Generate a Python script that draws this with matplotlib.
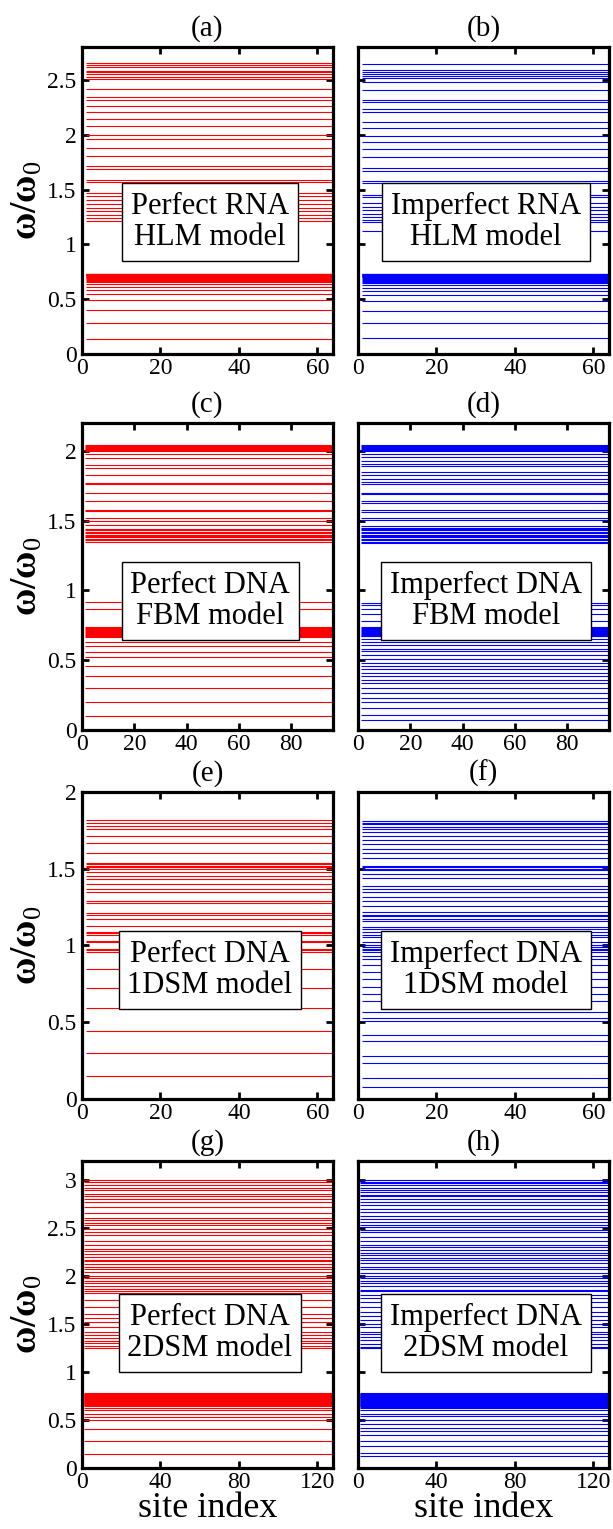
import numpy as np
import matplotlib
matplotlib.use("Agg")
import matplotlib.pyplot as plt

plt.rcParams['font.family'] = ['Liberation Serif', 'DejaVu Serif']
plt.rcParams['mathtext.fontset'] = 'custom'
plt.rcParams['mathtext.rm'] = 'Liberation Serif'
plt.rcParams['mathtext.bf'] = 'Liberation Serif:bold'
plt.rcParams['mathtext.it'] = 'Liberation Serif:italic'

# ------------------------------------------------------------------
# eigenfrequencies omega/omega_0
# ------------------------------------------------------------------
rna_hlm_perfect = [
    2.65, 2.635, 2.62, 2.585, 2.57, 2.55, 2.53, 2.51, 2.42, 2.34, 2.32,
    2.26, 2.21, 2.14, 2.08, 2.00, 1.96, 1.88, 1.81, 1.71, 1.69, 1.59, 1.57,
    1.47, 1.44, 1.40, 1.37, 1.33, 1.30, 1.27, 1.24, 1.21,
    0.14, 0.28, 0.40, 0.49, 0.55, 0.585, 0.615, 0.64, 0.655, 0.665, 0.675,
    0.683, 0.69, 0.695, 0.70, 0.705, 0.71, 0.713, 0.716, 0.719, 0.722,
    0.724, 0.726, 0.728, 0.73, 0.732]
rna_hlm_imperfect = [
    2.645, 2.59, 2.57, 2.555, 2.535, 2.52, 2.485, 2.41, 2.32, 2.30, 2.235,
    2.21, 2.12, 2.06, 1.985, 1.93, 1.87, 1.80, 1.70, 1.665, 1.575, 1.555,
    1.45, 1.43, 1.38, 1.345, 1.31, 1.28, 1.25, 1.225, 1.20, 1.12,
    0.15, 0.28, 0.39, 0.48, 0.54, 0.57, 0.60, 0.625, 0.645, 0.66, 0.67,
    0.678, 0.686, 0.693, 0.70, 0.705, 0.71, 0.714, 0.718, 0.722, 0.725,
    0.728, 0.731, 0.734]

dna_fbm_perfect = [
    2.0, 2.007, 2.014, 2.021, 2.028, 2.035, 2.042, 1.98, 1.95, 1.90, 1.88,
    1.83, 1.77, 1.76, 1.70, 1.64, 1.58, 1.57, 1.52, 1.50, 1.47, 1.44,
    1.35, 1.36, 1.37, 1.38, 1.39, 1.40, 1.41, 1.42, 1.43,
    0.92, 0.865, 0.665, 0.672, 0.679, 0.686, 0.693, 0.70, 0.707, 0.714,
    0.721, 0.728, 0.735, 0.63, 0.60, 0.56, 0.52, 0.46, 0.385, 0.30, 0.20,
    0.10]
dna_fbm_imperfect = [
    2.0, 2.007, 2.014, 2.021, 2.028, 2.035, 2.042, 1.98, 1.955, 1.93, 1.905,
    1.89, 1.85, 1.83, 1.80, 1.775, 1.76, 1.70, 1.69, 1.64, 1.625, 1.58,
    1.565, 1.52, 1.505, 1.34, 1.35, 1.36, 1.37, 1.38, 1.39, 1.40, 1.41,
    1.42, 1.43, 1.44, 1.45, 1.46,
    0.91, 0.895, 0.865, 0.83, 0.78, 0.67, 0.677, 0.684, 0.691, 0.698,
    0.705, 0.712, 0.719, 0.726, 0.733, 0.74, 0.65, 0.63, 0.61, 0.58, 0.565,
    0.535, 0.51, 0.48, 0.457, 0.44, 0.41, 0.385, 0.36, 0.337, 0.30, 0.264,
    0.228, 0.20, 0.156, 0.108, 0.072]

dna_1dsm_perfect = [
    1.815, 1.80, 1.78, 1.76, 1.715, 1.665, 1.605, 1.51, 1.52, 1.53, 1.54,
    1.50, 1.48, 1.455, 1.43, 1.40, 1.37, 1.35, 1.29, 1.28, 1.21, 1.20,
    1.175, 1.13, 1.09, 1.08, 1.07, 1.03, 1.02, 0.98, 0.97, 0.96, 0.85,
    0.72, 0.59, 0.445, 0.30, 0.15]
dna_1dsm_imperfect = [
    1.81, 1.80, 1.79, 1.77, 1.76, 1.74, 1.71, 1.69, 1.66, 1.63, 1.60, 1.57,
    1.52, 1.51, 1.50, 1.49, 1.465, 1.44, 1.39, 1.37, 1.35, 1.315, 1.287,
    1.26, 1.22, 1.20, 1.19, 1.17, 1.16, 1.12, 1.11, 1.09, 1.07, 1.055,
    1.02, 1.00, 0.99, 0.98, 0.97, 0.955, 0.93, 0.91, 0.87, 0.83, 0.78,
    0.73, 0.685, 0.64, 0.565, 0.525, 0.51, 0.42, 0.38, 0.28, 0.235, 0.14,
    0.076]

dna_2dsm_perfect = [
    3.0, 2.98, 2.95, 2.92, 2.90, 2.86, 2.83, 2.80, 2.77, 2.72, 2.66, 2.61,
    2.58, 2.555, 2.53, 2.49, 2.46, 2.43, 2.37, 2.32, 2.28, 2.26, 2.23,
    2.20, 2.17, 2.155, 2.13, 2.10, 2.07, 2.04, 2.0, 1.98, 1.95, 1.93, 1.90,
    1.87, 1.85, 1.82, 1.75, 1.68, 1.61, 1.565, 1.52, 1.47, 1.42, 1.39,
    1.36, 1.325, 1.30, 1.27, 1.25,
    0.65, 0.655, 0.66, 0.665, 0.67, 0.675, 0.68, 0.685, 0.69, 0.695, 0.70,
    0.705, 0.71, 0.715, 0.72, 0.725, 0.73, 0.735, 0.74, 0.745, 0.75, 0.755,
    0.76, 0.765, 0.77, 0.775, 0.78, 0.625, 0.60, 0.565, 0.53, 0.50, 0.41,
    0.28, 0.15]
dna_2dsm_imperfect = [
    3.0, 2.985, 2.97, 2.95, 2.92, 2.90, 2.88, 2.85, 2.83, 2.80, 2.77, 2.74,
    2.70, 2.67, 2.63, 2.60, 2.56, 2.53, 2.51, 2.48, 2.46, 2.41, 2.37, 2.32,
    2.30, 2.27, 2.24, 2.22, 2.19, 2.17, 2.14, 2.10, 2.07, 2.03, 2.0, 1.98,
    1.95, 1.93, 1.90, 1.86, 1.84, 1.80, 1.77, 1.73, 1.68, 1.63, 1.58, 1.54,
    1.50, 1.47, 1.42, 1.40, 1.37, 1.33, 1.29, 1.26, 1.25,
    0.64, 0.645, 0.65, 0.655, 0.66, 0.665, 0.67, 0.675, 0.68, 0.685, 0.69,
    0.695, 0.70, 0.705, 0.71, 0.715, 0.72, 0.725, 0.73, 0.735, 0.74, 0.745,
    0.75, 0.755, 0.76, 0.765, 0.77, 0.775, 0.78, 0.625, 0.60, 0.565, 0.54,
    0.50, 0.46, 0.42, 0.39, 0.345, 0.28, 0.23, 0.16, 0.13]

n_sites = [64, 96, 64, 128]
y_max = [2.8, 2.2, 2.0, 3.2]
x_ticks = [[0, 20, 40, 60], [0, 20, 40, 60, 80], [0, 20, 40, 60], [0, 40, 80, 120]]
y_ticks = [[0, 0.5, 1, 1.5, 2, 2.5], [0, 0.5, 1, 1.5, 2],
           [0, 0.5, 1, 1.5, 2], [0, 0.5, 1, 1.5, 2, 2.5, 3]]
models = ['RNA\nHLM model', 'DNA\nFBM model', 'DNA\n1DSM model', 'DNA\n2DSM model']
panel_tags = 'abcdefgh'
spectra = [(rna_hlm_perfect, rna_hlm_imperfect),
           (dna_fbm_perfect, dna_fbm_imperfect),
           (dna_1dsm_perfect, dna_1dsm_imperfect),
           (dna_2dsm_perfect, dna_2dsm_imperfect)]
box_y = [0.43, 0.42, 0.42, 0.44]

# ------------------------------------------------------------------
fig = plt.figure(figsize=(6.13, 15.29), dpi=100)
W = 251 / 613
H = 0.2008
lefts = [82 / 613, 358 / 613]
bottoms = [1 - 354 / 1529, 1 - 730 / 1529, 1 - 1099 / 1529, 1 - 1468 / 1529]

for r in range(4):
    for c in range(2):
        ax = fig.add_axes([lefts[c], bottoms[r], W, H])
        vals = spectra[r][c]
        col = '#FF0000' if c == 0 else '#0000FF'
        ax.hlines(vals, 1, n_sites[r], colors=col, linewidth=0.8)
        ax.set_xlim(0, n_sites[r])
        ax.set_ylim(0, y_max[r])
        ax.set_xticks(x_ticks[r])
        ax.set_yticks(y_ticks[r])
        ax.set_yticklabels(['%g' % v for v in y_ticks[r]])
        ax.tick_params(direction='in', top=True, right=True, length=5,
                       width=2.0, labelsize=17)
        ax.tick_params(axis='x', pad=3)
        ax.tick_params(axis='y', pad=4)
        for s in ax.spines.values():
            s.set_linewidth(2.3)
        if c == 1:
            ax.set_yticklabels([])
        else:
            ax.set_ylabel(r'$\mathbf{\omega/\omega}_{\mathrm{0}}$', fontsize=27)
            ax.yaxis.set_label_coords(-0.15, 0.5)
        ax.set_title('(%s)' % panel_tags[2 * r + c], fontsize=21, pad=8)
        prefix = 'Perfect ' if c == 0 else 'Imperfect '
        ax.text(0.51, box_y[r], prefix + models[r], transform=ax.transAxes,
                ha='center', va='center', fontsize=22, linespacing=1.1,
                bbox=dict(boxstyle='square,pad=0.28', fc='white', ec='black',
                          lw=1.0), zorder=5)
        if r == 3:
            ax.set_xlabel('site index', fontsize=26, labelpad=-1)

fig.savefig('out.png', dpi=100, facecolor='white')
